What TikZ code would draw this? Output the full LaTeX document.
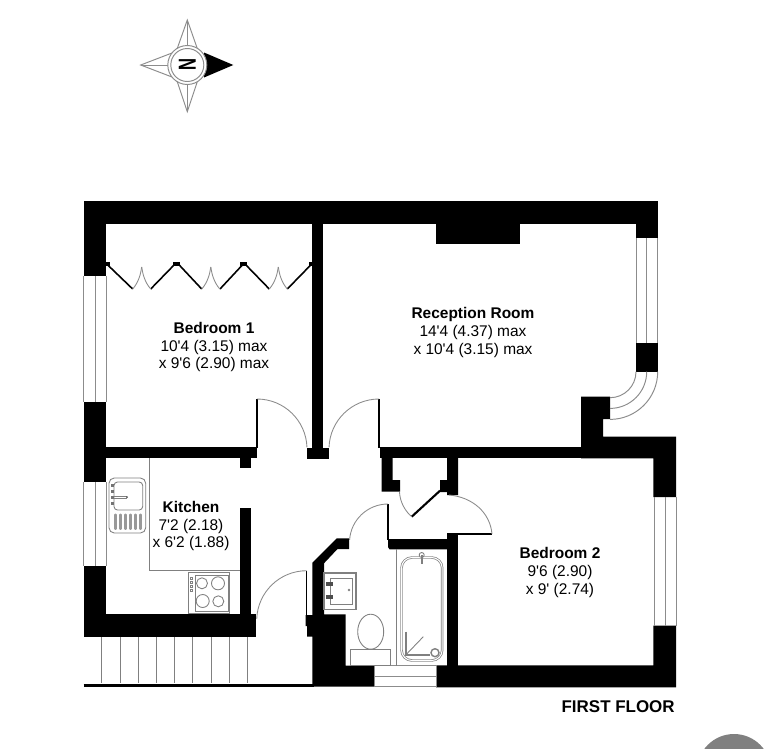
\documentclass[tikz,border=0pt]{standalone}
\usepackage{fontspec}
\newfontfamily\planfont{Liberation Sans}

\tikzset{
  wall/.style={fill=black},
  leaf/.style={draw=black, line width=0.9pt},
  swing/.style={draw=black!45, line width=0.5pt},
  fitting/.style={draw=black!50, line width=0.5pt},
  glass/.style={draw=black!45, line width=0.55pt},
  roomlabel/.style={align=center, inner sep=0pt, font=\planfont\fontsize{8.8}{10}\selectfont},
}

\begin{document}
\begin{tikzpicture}[x=0.02cm, y=-0.02cm]
    \useasboundingbox (0,0) rectangle (768,748);

    % Compass
    \def\cx{187.3}
    \def\cy{65}
    \draw[glass] (\cx,20) -- (198.5,52) -- (\cx,65) -- (176,52) -- cycle;
    \draw[glass] (\cx,111.7) -- (198.5,78) -- (\cx,65) -- (176,78) -- cycle;
    \draw[glass] (140.7,65) -- (172,53) -- (\cx,65) -- (172,77) -- cycle;
    \draw[glass] (\cx,20) -- (\cx,111.7);
    \draw[glass] (140.7,65) -- (\cx,65);
    \fill[black] (204,52.5) -- (233.3,65) -- (204,77.5) -- cycle;
    \draw[glass, fill=white] (\cx,\cy) circle (19.5);
    \draw[glass] (\cx,\cy) circle (16.5);
    \node[rotate=-90, xscale=0.68, inner sep=0pt, font=\planfont\fontsize{14}{14}\selectfont\bfseries] (north) at (\cx,\cy) {N};

    % Outer and inner walls
    \fill[wall] (83.5,201) rectangle (658,224);
    \fill[wall] (83.5,201) rectangle (106,276);
    \fill[wall] (83.5,402) rectangle (106,482);
    \fill[wall] (83.5,566) rectangle (106,637);
    \fill[wall] (83.5,614) rectangle (256,637);
    \fill[wall] (636,201) rectangle (657.7,238.3);
    \fill[wall] (636,342.7) rectangle (657.7,371.7);
    \fill[wall] (436,224) rectangle (520,244);
    \fill[wall] (312.3,224) rectangle (323.3,459);
    \fill[wall] (306.7,447.7) rectangle (329.3,459);
    \fill[wall] (106,447.3) rectangle (256.7,458.3);
    \fill[wall] (240,458) rectangle (251,468);
    \fill[wall] (240,507.7) rectangle (251,614);
    \fill[wall] (380,447) rectangle (581,458.3);
    \fill[wall] (581,396.7) -- (610,396.7) -- (610,419) -- (603,419) -- (603,436.7)
        -- (676,436.7) -- (676,497) -- (653.3,497) -- (653.3,458.3) -- (581,458.3) -- cycle;
    \fill[wall] (653.3,625.7) -- (676,625.7) -- (676,687.3) -- (436,687.3) -- (436,665.3)
        -- (653.3,665.3) -- cycle;

    % Cupboard and bathroom walls
    \fill[wall] (381.7,458) -- (392.7,458) -- (392.7,480) -- (400,480) -- (400,491.7) -- (381.7,491.7) -- cycle;
    \fill[wall] (447,458) -- (458,458) -- (458,495) -- (447,495) -- (447,492) -- (440,492) -- (440,480) -- (447,480) -- cycle;
    \fill[wall] (447,533) -- (458,533) -- (458,666) -- (447,666) -- cycle;
    \fill[wall] (388,539) -- (447,539) -- (447,549.3) -- (389.5,549.3) -- (388,547) -- cycle;
    \fill[wall] (336.7,538.3) -- (349,538.3) -- (349,549) -- (337.5,549) -- (324,563.3) -- (324,614.3)
        -- (345.7,614.3) -- (345.7,665.7) -- (374.3,665.7) -- (374.3,686.7) -- (312.3,686.7)
        -- (312.3,636.7) -- (307,636.7) -- (307,626) -- (305.7,626) -- (305.7,615) -- (312.3,615)
        -- (312.3,562.7) -- cycle;

    % Stairs
    \draw[black, line width=1.6pt] (83.5,685.7) -- (314,685.7);
    \foreach \sx in {101.7,120,138.2,156.4,174.6,192.8,211,229.2,247.7}
        \draw[fitting] (\sx,637) -- (\sx,683);

    % Windows
    \foreach \wx in {83.5,95,106} {
        \draw[glass] (\wx,276) -- (\wx,402);
        \draw[glass] (\wx,482) -- (\wx,566);
    }
    \foreach \wx in {636,646.7,657.7}
        \draw[glass] (\wx,238.3) -- (\wx,342.7);
    \foreach \wx in {654,665,676}
        \draw[glass] (\wx,497) -- (\wx,625.7);
    \foreach \wr in {26,36.7,47.7}
        \draw[glass] (610+\wr,371.7) arc[start angle=0, end angle=90, radius=\wr];
    \draw[glass] (374.3,665.7) rectangle (436,686.7);
    \draw[glass] (374.3,676.7) -- (436,676.7);

    % Wardrobe doors
    \fill[black] (106,262) rectangle (110,266);
    \fill[black] (173,262) rectangle (180,266);
    \fill[black] (240,262) rectangle (247,266);
    \fill[black] (309,262) rectangle (312.3,266);
    \foreach \ax/\bx in {106.7/132.7,175/150.7,178.3/201.7,243.3/220,245/269.3,311.7/287.3}
        \draw[leaf] (\ax,264) -- (\bx,289);
    \foreach \mx in {141.7,210.8,278.3} {
        \draw[swing] (\mx-9,289) .. controls (\mx-3,282) and (\mx-1,274) .. (\mx,267);
        \draw[swing] (\mx+9,289) .. controls (\mx+3,282) and (\mx+1,274) .. (\mx,267);
    }

    % Room doors
    \draw[leaf] (257,399) -- (257,447.5);
    \draw[swing] (257,399) arc[start angle=-90, end angle=-2, radius=50];
    \draw[leaf] (379,399) -- (379,447.5);
    \draw[swing] (379,399) arc[start angle=-90, end angle=-178, radius=50];
    \draw[leaf] (306.7,570.7) -- (306.7,615);
    \draw[swing] (306.7,570.7) arc[start angle=-90, end angle=-178, radius=50];
    \draw[leaf] (388,504) -- (388,540);
    \draw[swing] (388,504) arc[start angle=-90, end angle=-176, radius=38.5];
    \draw[leaf, line width=1.2pt] (411.7,516.7) -- (440,490.7);
    \draw[swing] (399.5,492) .. controls (400,502) and (405,511) .. (411.7,516.7);
    \draw[leaf] (447,534) -- (492,534);
    \draw[swing] (492,534) .. controls (490,512) and (472,497) .. (449,495);

    % Kitchen units
    \draw[fitting] (149.3,458) -- (149.3,570.7) -- (240,570.7);
    \draw[fitting, rounded corners=3pt] (109,478) rectangle (145.7,533);
    \draw[fitting, rounded corners=2pt] (114,482) rectangle (142.7,510);
    \foreach \gx in {115,120,125,130,135,140}
        \draw[fitting, line width=2.2pt, black!40, line cap=round] (\gx+0.5,515.5) -- (\gx+0.5,528);
    \draw[fitting] (112,496) -- (127,496) (112,498) -- (127,498);
    \fill[black!70] (127,497) circle (1);
    \foreach \ty in {485,491,497,503}
        \fill[black!55] (110.5,\ty-1.5) rectangle (113.5,\ty+1.5);

    % Cooker
    \draw[fitting] (188.3,572.7) rectangle (229.3,613.3);
    \draw[fitting] (195,575) rectangle (228.5,611.5);
    \draw[fitting] (202,583.3) circle (5.5);
    \draw[fitting] (218,583.3) circle (6.5);
    \draw[fitting] (202.7,601) circle (6.5);
    \draw[fitting] (218.3,601.3) circle (5.5);
    \foreach \ty in {577,581,585,589}
        \draw[fitting] (190,\ty) rectangle (192.5,\ty+2.5);

    % Wash basin and toilet
    \draw[fitting, line width=0.9pt] (324,572.7) rectangle (356,609.3);
    \draw[fitting] (330.7,578) rectangle (352.3,604);
    \fill[black!70] (326,582) rectangle (333,586);
    \fill[black!70] (326,595) rectangle (333,599);
    \fill[black!50] (349,590) circle (1.3);
    \draw[fitting] (350.7,649) rectangle (390.7,665.7);
    \draw[fitting, fill=white] (370.7,631.7) ellipse (13 and 17.5);
    \draw[fitting] (350.7,649) -- (390.7,649);

    % Bath
    \draw[fitting] (396,549.3) -- (396,665.7);
    \draw[fitting, line width=0.4pt, double, double distance=0.6pt, rounded corners=6pt] (401.5,557.5) rectangle (442.2,660.5);
    \draw[fitting, fill=white] (421.7,555) circle (2.5);
    \draw[fitting, line width=1pt] (421.7,555) -- (421.7,564);
    \draw[fitting, line width=1.1pt] (405.7,631.7) -- (405.7,655) -- (430,655);
    \draw[fitting] (405.7,655) -- (423.3,636.7);
    \draw[fitting, fill=white, line width=0.8pt] (435,652.7) circle (4);

    % Room labels
    \node[roomlabel] (bedroomone) at (214,347) {\textbf{Bedroom 1}\\10'4 (3.15) max\\x 9'6 (2.90) max};
    \node[roomlabel] (reception) at (473,332.5) {\textbf{Reception Room}\\14'4 (4.37) max\\x 10'4 (3.15) max};
    \node[roomlabel] (kitchen) at (191,526) {\textbf{Kitchen}\\7'2 (2.18)\\x 6'2 (1.88)};
    \node[roomlabel] (bedroomtwo) at (560,572.5) {\textbf{Bedroom 2}\\9'6 (2.90)\\x 9' (2.74)};
    \node[inner sep=0pt, anchor=east, font=\planfont\fontsize{9.65}{10}\selectfont\bfseries] (floor) at (675,707) {FIRST FLOOR};

    % Grey disc at the corner
    \begin{scope}
        \clip (0,0) rectangle (768,748);
        \fill[black!50] (734,771) circle (37);
    \end{scope}
\end{tikzpicture}
\end{document}
